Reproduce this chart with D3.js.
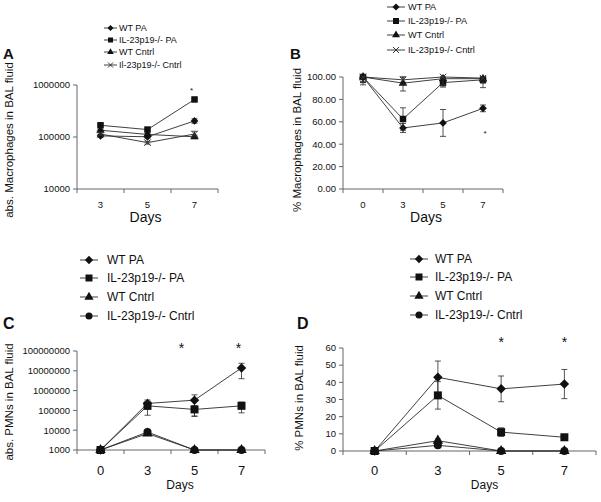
<!DOCTYPE html>
<html>
<head>
<meta charset="utf-8">
<script src="https://cdn.jsdelivr.net/npm/d3@7"></script>
<style>
  body { margin: 0; background: #fff; }
  text { font-family: "Liberation Sans", Arial, sans-serif; fill: #111; }
</style>
</head>
<body>
<script>
// ---- data ----
const daysA = ["3", "5", "7"];
const daysBCD = ["0", "3", "5", "7"];

const seriesAB = ["WT PA", "IL-23p19-/- PA", "WT Cntrl", "Il-23p19-/- Cntrl"];
const seriesB = ["WT PA", "IL-23p19-/- PA", "WT Cntrl", "IL-23p19-/- Cntrl"];
const seriesCD = ["WT PA", "IL-23p19-/- PA", "WT Cntrl", "IL-23p19-/- Cntrl"];

// A: absolute macrophages (log)
const macroAbsWT = [105000, 101000, 204000];
const macroAbsKO = [168000, 139000, 527000];
const macroAbsWTc = [135000, 112000, 101000];
const macroAbsKOc = [114000, 78000, 114000];
const macroAbsErr = [
  [6000, 6000, 20000],
  [8000, 8000, 20000],
  [5000, 5000, 8000],
  [5000, 5000, 15000]
];

// B: % macrophages
const macroPctWT = [100, 54.5, 59, 72];
const macroPctKO = [100, 62.5, 95, 97.5];
const macroPctWTc = [100, 94.5, 98.5, 98.5];
const macroPctKOc = [100, 97.5, 100, 99];
const macroPctErr = [
  [7, 4, 12, 3],
  [5, 10, 4, 3],
  [5, 7, 5, 8],
  [4, 4, 8, 4]
];

// C: absolute PMNs (log)
const pmnAbsWT = [1000, 224000, 330000, 14000000];
const pmnAbsKO = [1000, 170000, 112000, 170000];
const pmnAbsWTc = [1000, 6800, 1000, 1000];
const pmnAbsKOc = [1000, 8100, 1000, 1000];
const pmnAbsErr = [
  [0, 110000, 280000, 10000000],
  [0, 113000, 60000, 95000],
  [0, 0, 0, 0],
  [0, 1200, 0, 0]
];

// D: % PMNs
const pmnPctWT = [0, 42.9, 36.2, 39];
const pmnPctKO = [0, 32.4, 11, 8];
const pmnPctWTc = [0, 6, 0, 0];
const pmnPctKOc = [0, 3.3, 0, 0];
const pmnPctErr = [
  [0, 9.5, 7.5, 8.5],
  [0, 8, 2.5, 1],
  [0, 1, 0, 0],
  [0, 0.5, 0, 0]
];

const ticksA = [10000, 100000, 1000000];
const ticksB = [0, 20, 40, 60, 80, 100];
const ticksC = [1000, 10000, 100000, 1000000, 10000000, 100000000];
const ticksD = [0, 10, 20, 30, 40, 50, 60];

const svg = d3.select("body").append("svg")
  .attr("width", 601).attr("height", 502);

const lineColor = "#2a2a2a";
const axisColor = "#666";

function markerPath(kind, size) {
  const s = size / 2;
  if (kind === "times") {
    return `M${-s},${-s}L${s},${s}M${-s},${s}L${s},${-s}`;
  }
  const types = {
    diamond: d3.symbolDiamond2 || d3.symbolDiamond,
    square: d3.symbolSquare,
    triangle: d3.symbolTriangle,
    circle: d3.symbolCircle
  };
  let area = size * size;
  if (kind === "diamond") area = size * size * 0.9;
  if (kind === "triangle") area = size * size * 0.75;
  if (kind === "circle") area = size * size * 0.8;
  return d3.symbol().type(types[kind]).size(area)();
}

function drawPanel(cfg) {
  const g = svg.append("g");
  const x = d3.scaleBand().domain(cfg.days).range(cfg.xRange);
  const y = cfg.log
    ? d3.scaleLog().domain(cfg.yDomain).range(cfg.yRange)
    : d3.scaleLinear().domain(cfg.yDomain).range(cfg.yRange);
  const y0 = cfg.yRange[0];
  const cx = d => x(d) + x.bandwidth() / 2;

  // axes
  g.append("line").attr("x1", cfg.xRange[0]).attr("x2", cfg.xRange[0])
    .attr("y1", cfg.yRange[1]).attr("y2", y0)
    .attr("stroke", axisColor).attr("stroke-width", 1);
  g.append("line").attr("x1", cfg.xRange[0]).attr("x2", cfg.xRange[1])
    .attr("y1", y0).attr("y2", y0)
    .attr("stroke", axisColor).attr("stroke-width", 1);

  cfg.yTicks.forEach(t => {
    g.append("line").attr("x1", cfg.xRange[0] - 4).attr("x2", cfg.xRange[0])
      .attr("y1", y(t)).attr("y2", y(t)).attr("stroke", axisColor);
    g.append("text").attr("x", cfg.xRange[0] - 7).attr("y", y(t))
      .attr("dy", "0.35em").attr("text-anchor", "end")
      .attr("font-size", cfg.yTickFont).text(cfg.yFormat(t));
  });
  const edges = cfg.days.map(d => x(d)).concat([cfg.xRange[1]]);
  edges.forEach(e => {
    g.append("line").attr("x1", e).attr("x2", e)
      .attr("y1", y0).attr("y2", y0 + 4).attr("stroke", axisColor);
  });
  cfg.days.forEach(d => {
    g.append("text").attr("x", cx(d)).attr("y", cfg.xTickY)
      .attr("text-anchor", "middle").attr("font-size", cfg.xTickFont).text(d);
  });
  g.append("text").attr("x", (cfg.xRange[0] + cfg.xRange[1]) / 2 + cfg.daysDx)
    .attr("y", cfg.daysY).attr("text-anchor", "middle")
    .attr("font-size", cfg.daysFont).text("Days");

  // y title
  g.append("text")
    .attr("transform", `translate(${cfg.yTitleX},${cfg.yTitleY}) rotate(-90)`)
    .attr("text-anchor", "middle").attr("dy", "0.35em")
    .attr("font-size", cfg.yTitleFont).text(cfg.yTitle);

  // panel letter
  g.append("text").attr("x", cfg.letterX).attr("y", cfg.letterY)
    .attr("font-size", cfg.letterFont).attr("font-weight", "bold").text(cfg.letter);

  const clampV = v => Math.max(cfg.yDomain[0], Math.min(cfg.yDomain[1] * 1.0, v));

  // series
  cfg.values.forEach((vals, i) => {
    const pts = vals.map((v, j) => [cx(cfg.days[j]), y(v)]);
    g.append("path").attr("d", d3.line()(pts))
      .attr("fill", "none").attr("stroke", lineColor).attr("stroke-width", 0.9);

    vals.forEach((v, j) => {
      const e = cfg.errors[i][j];
      if (!e) return;
      const px = cx(cfg.days[j]);
      const top = y(clampV(v + e));
      const bot = y(clampV(v - e));
      g.append("line").attr("x1", px).attr("x2", px).attr("y1", top).attr("y2", bot)
        .attr("stroke", lineColor).attr("stroke-width", 0.8);
      [top, bot].forEach(yy => {
        g.append("line").attr("x1", px - 3).attr("x2", px + 3)
          .attr("y1", yy).attr("y2", yy)
          .attr("stroke", lineColor).attr("stroke-width", 0.8);
      });
    });

    vals.forEach((v, j) => {
      const kind = cfg.markers[i];
      g.append("path")
        .attr("transform", `translate(${cx(cfg.days[j])},${y(v)})`)
        .attr("d", markerPath(kind, cfg.markerSize))
        .attr("fill", kind === "times" ? "none" : "#111")
        .attr("stroke", kind === "times" ? "#333" : "none")
        .attr("stroke-width", 1);
    });
  });

  // significance stars
  cfg.stars.forEach(s => {
    g.append("text").attr("x", cx(s.day) + s.dx).attr("y", s.y)
      .attr("text-anchor", "middle").attr("font-size", cfg.starFont).text("*");
  });

  // legend
  cfg.legendNames.forEach((name, i) => {
    const ly = cfg.legendY[i];
    const lx = cfg.legendX;
    g.append("line").attr("x1", lx).attr("x2", lx + cfg.legendLine)
      .attr("y1", ly).attr("y2", ly).attr("stroke", lineColor).attr("stroke-width", 0.9);
    const kind = cfg.markers[i];
    g.append("path")
      .attr("transform", `translate(${lx + cfg.legendLine / 2},${ly})`)
      .attr("d", markerPath(kind, cfg.legendMarker))
      .attr("fill", kind === "times" ? "none" : "#111")
      .attr("stroke", kind === "times" ? "#333" : "none");
    g.append("text").attr("x", lx + cfg.legendLine + cfg.legendGap).attr("y", ly)
      .attr("dy", "0.35em").attr("font-size", cfg.legendFont).text(name);
  });
}

const fmtInt = d3.format("d");
const fmt2 = d3.format(".2f");

drawPanel({
  letter: "A", letterX: 3, letterY: 59, letterFont: 15,
  days: daysA, xRange: [77, 218], yRange: [189, 85], yDomain: [10000, 1000000], log: true,
  yTicks: ticksA, yFormat: fmtInt, yTickFont: 9.5,
  xTickY: 208, xTickFont: 9.5, daysY: 222, daysFont: 14, daysDx: -2,
  yTitle: "abs. Macrophages in BAL fluid", yTitleX: 9, yTitleY: 140, yTitleFont: 11.5,
  values: [macroAbsWT, macroAbsKO, macroAbsWTc, macroAbsKOc], errors: macroAbsErr,
  markers: ["diamond", "square", "triangle", "times"], markerSize: 6.5,
  stars: [{day: "7", dx: -3, y: 93}], starFont: 8,
  legendNames: seriesAB, legendX: 104, legendY: [28, 40, 52, 65],
  legendLine: 13, legendGap: 2, legendFont: 9, legendMarker: 5
});

drawPanel({
  letter: "B", letterX: 290, letterY: 59, letterFont: 15,
  days: daysBCD, xRange: [343, 503], yRange: [189, 77], yDomain: [0, 100], log: false,
  yTicks: ticksB, yFormat: fmt2, yTickFont: 9.5,
  xTickY: 208, xTickFont: 9.5, daysY: 222, daysFont: 14, daysDx: 3,
  yTitle: "% Macrophages in BAL fluid", yTitleX: 297, yTitleY: 140, yTitleFont: 11.5,
  values: [macroPctWT, macroPctKO, macroPctWTc, macroPctKOc], errors: macroPctErr,
  markers: ["diamond", "square", "triangle", "times"], markerSize: 6.5,
  stars: [{day: "7", dx: 2, y: 136}], starFont: 8,
  legendNames: seriesB, legendX: 387, legendY: [7, 21, 35, 50],
  legendLine: 18, legendGap: 3, legendFont: 9.2, legendMarker: 6
});

drawPanel({
  letter: "C", letterX: 3, letterY: 329, letterFont: 16,
  days: daysBCD, xRange: [77, 265], yRange: [450, 351], yDomain: [1000, 100000000], log: true,
  yTicks: ticksC, yFormat: fmtInt, yTickFont: 9.5,
  xTickY: 475, xTickFont: 13, daysY: 489, daysFont: 12, daysDx: 9,
  yTitle: "abs. PMNs in BAL fluid", yTitleX: 9, yTitleY: 402, yTitleFont: 11.5,
  values: [pmnAbsWT, pmnAbsKO, pmnAbsWTc, pmnAbsKOc], errors: pmnAbsErr,
  markers: ["diamond", "square", "triangle", "circle"], markerSize: 8,
  stars: [{day: "5", dx: -13, y: 353}, {day: "7", dx: -3, y: 353}], starFont: 14,
  legendNames: seriesCD, legendX: 80, legendY: [260, 278, 297, 316],
  legendLine: 18, legendGap: 9, legendFont: 12, legendMarker: 7
});

drawPanel({
  letter: "D", letterX: 297, letterY: 329, letterFont: 16,
  days: daysBCD, xRange: [343, 596], yRange: [451, 348], yDomain: [0, 60], log: false,
  yTicks: ticksD, yFormat: fmtInt, yTickFont: 9.5,
  xTickY: 475, xTickFont: 13, daysY: 489, daysFont: 12, daysDx: 15,
  yTitle: "% PMNs in BAL fluid", yTitleX: 299, yTitleY: 398, yTitleFont: 11.5,
  values: [pmnPctWT, pmnPctKO, pmnPctWTc, pmnPctKOc], errors: pmnPctErr,
  markers: ["diamond", "square", "triangle", "circle"], markerSize: 8,
  stars: [{day: "5", dx: 0, y: 347}, {day: "7", dx: 0, y: 347}], starFont: 14,
  legendNames: seriesCD, legendX: 410, legendY: [259, 277, 296, 315],
  legendLine: 18, legendGap: 7, legendFont: 12, legendMarker: 7
});
</script>
</body>
</html>
